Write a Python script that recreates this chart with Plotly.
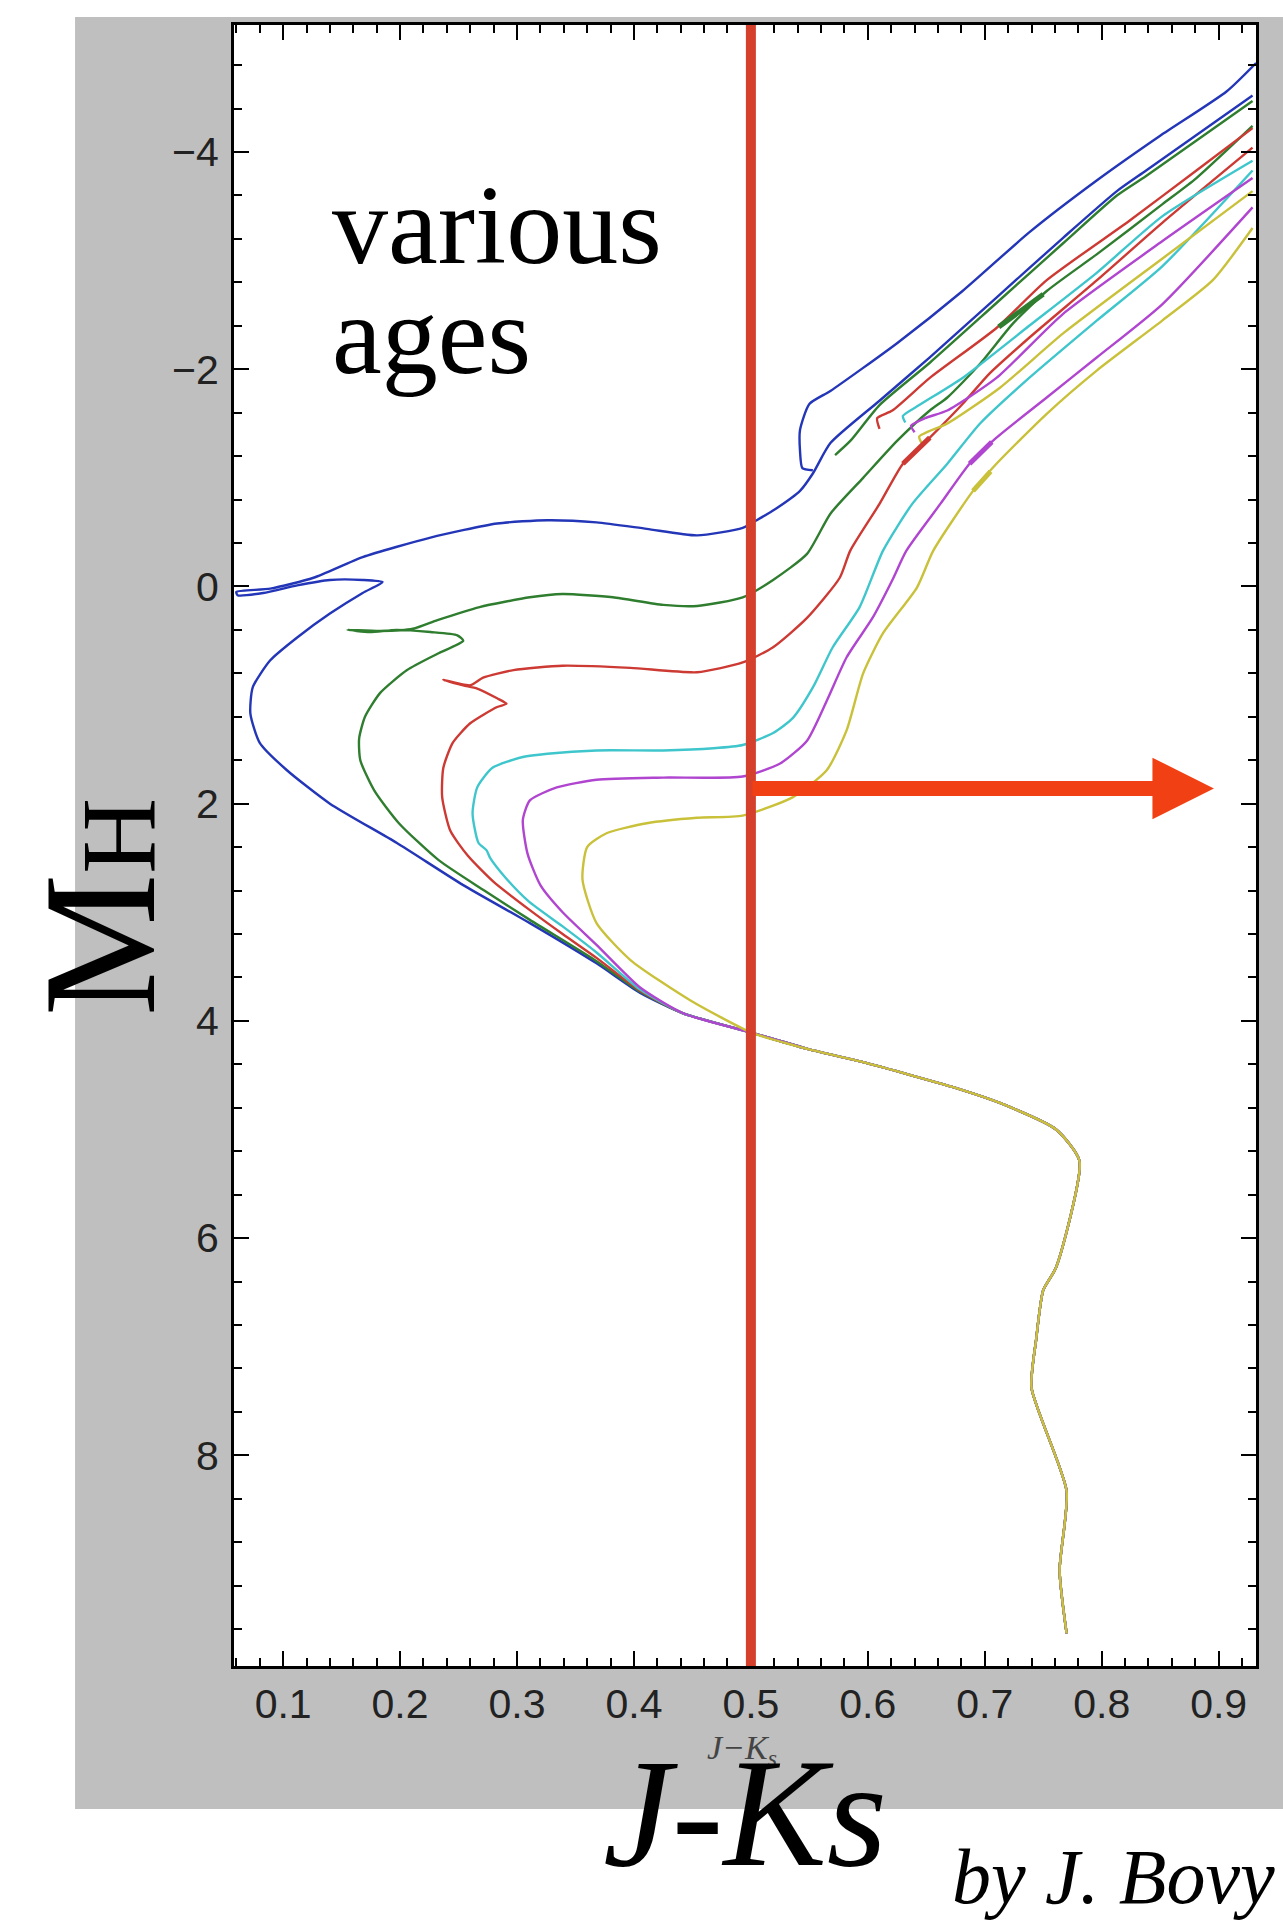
import plotly.graph_objects as go

# ---------------- data (J-Ks colour, absolute H magnitude) ----------------
x_ticks = [0.1, 0.2, 0.3, 0.4, 0.5, 0.6, 0.7, 0.8, 0.9]
y_ticks = [-4, -2, 0, 2, 4, 6, 8]

# common lower main sequence (faint end -> up)
ms_x = [0.770, 0.764, 0.770, 0.740, 0.744, 0.750, 0.761, 0.781, 0.761, 0.714, 0.679, 0.596, 0.549, 0.501, 0.442]
ms_y = [9.64, 9.06, 8.33, 7.38, 6.93, 6.48, 6.27, 5.29, 5.00, 4.76, 4.63, 4.38, 4.26, 4.11, 3.93]

# youngest isochrone (blue)
blue_to_x = [0.405, 0.368, 0.311, 0.254, 0.197, 0.140, 0.103, 0.080, 0.072, 0.074, 0.089, 0.112, 0.140, 0.168, 0.185,
             0.168, 0.140, 0.112, 0.083, 0.061, 0.060, 0.089, 0.126, 0.168, 0.226, 0.283, 0.326, 0.368, 0.411, 0.454,
             0.493, 0.505, 0.522, 0.542, 0.553]
blue_to_y = [3.74, 3.47, 3.10, 2.75, 2.36, 2.00, 1.69, 1.44, 1.17, 0.93, 0.68, 0.47, 0.25, 0.06, -0.04,
             -0.06, -0.06, -0.01, 0.06, 0.08, 0.05, 0.02, -0.08, -0.27, -0.45, -0.58, -0.61, -0.59, -0.53, -0.47,
             -0.54, -0.61, -0.72, -0.88, -1.04]
blue_rgb_x = [0.568, 0.610, 0.653, 0.710, 0.767, 0.813, 0.838, 0.929]
blue_rgb_y = [-1.32, -1.71, -2.11, -2.66, -3.21, -3.64, -3.83, -4.52]
blue_agb_x = [0.553, 0.544, 0.542, 0.542, 0.550, 0.568, 0.625, 0.681, 0.738, 0.796, 0.850, 0.907, 0.932]
blue_agb_y = [-1.07, -1.09, -1.25, -1.44, -1.68, -1.80, -2.24, -2.72, -3.26, -3.74, -4.15, -4.56, -4.82]

# green
green_to_x = [0.405, 0.368, 0.311, 0.272, 0.233, 0.199, 0.178, 0.166, 0.165, 0.170, 0.183, 0.206, 0.232, 0.254,
              0.249, 0.226, 0.197, 0.174, 0.155, 0.183, 0.211, 0.232, 0.268, 0.311, 0.339, 0.382, 0.425, 0.454, 0.493]
green_to_y = [3.73, 3.45, 3.07, 2.80, 2.52, 2.18, 1.88, 1.60, 1.40, 1.20, 0.98, 0.77, 0.62, 0.50,
              0.45, 0.42, 0.40, 0.42, 0.40, 0.41, 0.39, 0.31, 0.19, 0.10, 0.07, 0.10, 0.17, 0.18, 0.10]
green_rgb_x = [0.519, 0.548, 0.568, 0.596, 0.625, 0.653, 0.668, 0.696, 0.724, 0.753, 0.796, 0.852, 0.881, 0.929]
green_rgb_y = [-0.06, -0.30, -0.67, -1.00, -1.34, -1.62, -1.74, -2.05, -2.42, -2.72, -3.06, -3.52, -3.76, -4.24]
green_agb_x = [0.572, 0.585, 0.610, 0.653, 0.710, 0.767, 0.813, 0.838, 0.929]
green_agb_y = [-1.21, -1.34, -1.67, -2.06, -2.61, -3.16, -3.60, -3.78, -4.47]

# red
red_to_x = [0.405, 0.368, 0.339, 0.311, 0.280, 0.258, 0.243, 0.236, 0.237, 0.245, 0.260, 0.283, 0.291, 0.283,
            0.266, 0.254, 0.237, 0.260, 0.271, 0.297, 0.339, 0.397, 0.454, 0.493]
red_to_y = [3.72, 3.42, 3.20, 2.98, 2.72, 2.48, 2.25, 1.94, 1.67, 1.44, 1.26, 1.11, 1.08, 1.03,
            0.94, 0.91, 0.86, 0.91, 0.84, 0.77, 0.73, 0.75, 0.79, 0.70]
red_rgb_x = [0.519, 0.548, 0.576, 0.585, 0.610, 0.630, 0.653, 0.681, 0.704, 0.738, 0.796, 0.852, 0.929]
red_rgb_y = [0.56, 0.29, -0.08, -0.33, -0.76, -1.13, -1.37, -1.68, -1.96, -2.29, -2.82, -3.35, -4.04]
red_agb_x = [0.610, 0.608, 0.621, 0.653, 0.710, 0.753, 0.824, 0.881, 0.929]
red_agb_y = [-1.45, -1.55, -1.62, -1.92, -2.38, -2.82, -3.37, -3.83, -4.22]

# cyan
cyan_to_x = [0.405, 0.368, 0.339, 0.310, 0.290, 0.277, 0.274, 0.267, 0.262, 0.266, 0.279, 0.305, 0.326, 0.368,
             0.425, 0.468, 0.493]
cyan_to_y = [3.71, 3.37, 3.13, 2.90, 2.68, 2.50, 2.43, 2.36, 2.09, 1.85, 1.67, 1.57, 1.54, 1.51,
             1.51, 1.49, 1.46]
cyan_rgb_x = [0.519, 0.536, 0.553, 0.570, 0.593, 0.613, 0.638, 0.668, 0.696, 0.738, 0.796, 0.852, 0.929]
cyan_rgb_y = [1.35, 1.21, 0.93, 0.56, 0.19, -0.33, -0.76, -1.13, -1.50, -1.92, -2.45, -2.95, -3.83]
cyan_agb_x = [0.632, 0.630, 0.644, 0.681, 0.738, 0.796, 0.852, 0.929]
cyan_agb_y = [-1.51, -1.57, -1.67, -1.92, -2.40, -2.89, -3.41, -3.92]

# magenta
mag_to_x = [0.405, 0.368, 0.339, 0.320, 0.309, 0.305, 0.311, 0.334, 0.368, 0.425, 0.493]
mag_to_y = [3.69, 3.30, 3.00, 2.75, 2.46, 2.15, 1.97, 1.85, 1.78, 1.76, 1.75]
mag_rgb_x = [0.525, 0.548, 0.565, 0.582, 0.604, 0.621, 0.633, 0.662, 0.687, 0.710, 0.753, 0.796, 0.852, 0.929]
mag_rgb_y = [1.63, 1.42, 1.05, 0.65, 0.29, -0.06, -0.33, -0.76, -1.13, -1.37, -1.74, -2.11, -2.60, -3.49]
mag_agb_x = [0.640, 0.637, 0.649, 0.668, 0.710, 0.767, 0.852, 0.929]
mag_agb_y = [-1.42, -1.48, -1.55, -1.62, -1.92, -2.51, -3.18, -3.76]

# yellow (oldest)
yel_to_x = [0.448, 0.397, 0.368, 0.356, 0.360, 0.377, 0.411, 0.454, 0.493]
yel_to_y = [3.81, 3.44, 3.10, 2.70, 2.40, 2.27, 2.18, 2.13, 2.11]
yel_rgb_x = [0.536, 0.565, 0.582, 0.596, 0.613, 0.642, 0.656, 0.690, 0.710, 0.753, 0.796, 0.852, 0.895, 0.929]
yel_rgb_y = [1.94, 1.69, 1.32, 0.80, 0.43, 0.01, -0.33, -0.88, -1.13, -1.59, -1.99, -2.45, -2.82, -3.30]
yel_agb_x = [0.646, 0.644, 0.668, 0.713, 0.767, 0.852, 0.929]
yel_agb_y = [-1.32, -1.38, -1.50, -1.83, -2.33, -3.02, -3.64]

# densely sampled (thick-looking) clump stretches on the giant branches
clump_red_x = [0.630, 0.653]
clump_red_y = [-1.13, -1.37]
clump_mag_x = [0.687, 0.706]
clump_mag_y = [-1.13, -1.33]
clump_yel_x = [0.690, 0.705]
clump_yel_y = [-0.88, -1.06]
clump_green_x = [0.712, 0.750]
clump_green_y = [-2.39, -2.69]

# colour cut and arrow
cut_color = 0.5
arrow_y = 1.86
arrow_end = 0.896

# ---------------- figure ----------------
C_BLUE, C_GREEN, C_RED, C_CYAN, C_MAG, C_YEL = "#2436b8", "#2f7d2f", "#cc3a33", "#3ec6cc", "#b045d0", "#c9c13a"
isochrones = [
    (C_BLUE, ms_x + blue_to_x + blue_rgb_x, ms_y + blue_to_y + blue_rgb_y, blue_agb_x, blue_agb_y),
    (C_GREEN, ms_x + green_to_x + green_rgb_x, ms_y + green_to_y + green_rgb_y, green_agb_x, green_agb_y),
    (C_RED, ms_x + red_to_x + red_rgb_x, ms_y + red_to_y + red_rgb_y, red_agb_x, red_agb_y),
    (C_CYAN, ms_x + cyan_to_x + cyan_rgb_x, ms_y + cyan_to_y + cyan_rgb_y, cyan_agb_x, cyan_agb_y),
    (C_MAG, ms_x + mag_to_x + mag_rgb_x, ms_y + mag_to_y + mag_rgb_y, mag_agb_x, mag_agb_y),
    (C_YEL, ms_x[:14] + yel_to_x + yel_rgb_x, ms_y[:14] + yel_to_y + yel_rgb_y, yel_agb_x, yel_agb_y),
]

fig = go.Figure()
for col, px, py, ax_, ay_ in isochrones:
    fig.add_trace(go.Scatter(x=px, y=py, mode="lines",
                             line=dict(color=col, width=2.4, shape="spline", smoothing=0.6), hoverinfo="skip"))
    fig.add_trace(go.Scatter(x=ax_, y=ay_, mode="lines",
                             line=dict(color=col, width=2.4, shape="spline", smoothing=0.6), hoverinfo="skip"))

for col, cx, cy in [(C_RED, clump_red_x, clump_red_y), (C_MAG, clump_mag_x, clump_mag_y),
                    (C_YEL, clump_yel_x, clump_yel_y), (C_GREEN, clump_green_x, clump_green_y)]:
    fig.add_trace(go.Scatter(x=cx, y=cy, mode="lines", line=dict(color=col, width=5), hoverinfo="skip"))

axis_font = dict(family="Liberation Sans, Arial, sans-serif", size=41, color="#222222")

fig.update_layout(
    width=1283, height=1920, autosize=False,
    margin=dict(l=0, r=0, t=0, b=0),
    paper_bgcolor="white", plot_bgcolor="rgba(0,0,0,0)",
    showlegend=False,
    xaxis=dict(
        domain=[0.1824, 0.9790], range=[0.058, 0.932],
        tickmode="array", tickvals=x_ticks, ticktext=[f"{v:.1f}" for v in x_ticks],
        ticks="inside", ticklen=15, tickwidth=2, tickcolor="black",
        showline=True, linecolor="black", linewidth=3, mirror="allticks",
        showgrid=False, zeroline=False, tickfont=axis_font,
        minor=dict(dtick=0.02, tick0=0.1, ticks="inside", ticklen=8, tickwidth=1.5, tickcolor="black", showgrid=False),
    ),
    yaxis=dict(
        domain=[0.1323, 0.9870], range=[9.94, -5.17],
        tickmode="array", tickvals=y_ticks, ticktext=[str(v).replace("-", "\u2212") for v in y_ticks],
        ticks="inside", ticklen=15, tickwidth=2, tickcolor="black",
        showline=True, linecolor="black", linewidth=3, mirror="allticks",
        showgrid=False, zeroline=False, tickfont=axis_font, ticklabelstandoff=4,
        minor=dict(dtick=0.4, tick0=0, ticks="inside", ticklen=8, tickwidth=1.5, tickcolor="black", showgrid=False),
    ),
    shapes=[
        dict(type="rect", xref="paper", yref="paper", x0=0.0585, x1=1.0, y0=0.0578, y1=0.9911,
             fillcolor="#bfbfbf", line=dict(width=0), layer="below"),
        dict(type="rect", xref="x domain", yref="y domain", x0=0, x1=1, y0=0, y1=1,
             fillcolor="white", line=dict(width=0), layer="below"),
        dict(type="line", xref="x", yref="y domain", x0=cut_color, x1=cut_color, y0=0, y1=1,
             line=dict(color="#d5402c", width=10), layer="above"),
    ],
)

serif = "Liberation Serif, Times New Roman, serif"
fig.add_annotation(x=arrow_end, y=arrow_y, ax=cut_color, ay=arrow_y, xref="x", yref="y", axref="x", ayref="y",
                   text="", showarrow=True, arrowhead=2, arrowsize=0.82, arrowwidth=15, arrowcolor="#f24015",
                   standoff=0, startstandoff=0)
fig.add_annotation(x=330 / 1283, y=0.883, xref="paper", yref="paper", text="various", showarrow=False,
                   xanchor="left", yanchor="middle", font=dict(family=serif, size=112, color="black"))
fig.add_annotation(x=330 / 1283, y=0.8255, xref="paper", yref="paper", text="ages", showarrow=False,
                   xanchor="left", yanchor="middle", font=dict(family=serif, size=112, color="black"))
fig.add_annotation(x=742 / 1283, y=1 - 1750 / 1920, xref="paper", yref="paper", text="J\u2212K<sub>s</sub>",
                   showarrow=False, xanchor="center", yanchor="middle",
                   font=dict(family=serif, size=34, color="#444444", style="italic"))
fig.add_annotation(x=745 / 1283, y=0.0557, xref="paper", yref="paper", text="J-Ks", showarrow=False,
                   xanchor="center", yanchor="middle",
                   font=dict(family=serif, size=155, color="black", style="italic"))
fig.add_annotation(x=1277 / 1283, y=0.0224, xref="paper", yref="paper", text="by J. Bovy", showarrow=False,
                   xanchor="right", yanchor="middle",
                   font=dict(family=serif, size=78, color="black", style="italic"))
fig.add_annotation(x=100 / 1283, y=1 - 907 / 1920, xref="paper", yref="paper",
                   text="M<span style='font-size:105px'>H</span>", showarrow=False, textangle=-90,
                   xanchor="center", yanchor="middle", font=dict(family=serif, size=160, color="black"))

fig.write_html("out.html")
